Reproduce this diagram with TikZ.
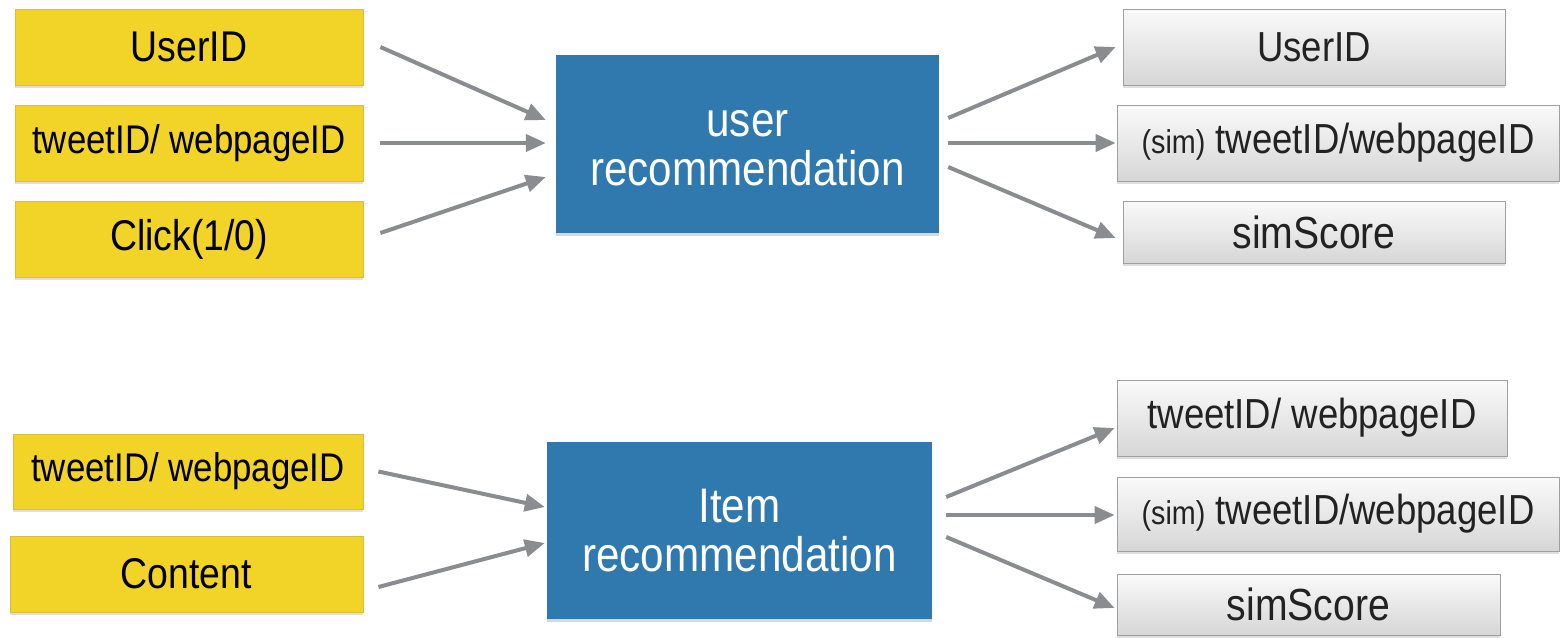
\documentclass[tikz,border=0pt]{standalone}
\usepackage{fontspec}
\setmainfont[FakeStretch=0.87]{Liberation Sans}
\usetikzlibrary{arrows.meta,calc,shadows}
\definecolor{ybox}{RGB}{242,212,40}
\definecolor{bbox}{RGB}{47,121,174}
\definecolor{arrowgray}{RGB}{138,140,144}
\definecolor{gtop}{RGB}{250,250,250}
\definecolor{gbot}{RGB}{214,214,214}
\definecolor{gborder}{RGB}{160,160,160}
\definecolor{yborder}{RGB}{215,190,60}
\definecolor{gtext}{RGB}{34,34,34}
\tikzset{
  yellowbox/.style={draw=yborder, line width=0.8pt, fill=ybox, inner sep=0pt,
    drop shadow={shadow xshift=0pt, shadow yshift=-2.5pt, opacity=0.25},
    font=\fontsize{43}{46}\selectfont},
  bluebox/.style={fill=bbox, inner sep=0pt, text=white, align=center,
    drop shadow={shadow xshift=0pt, shadow yshift=-3pt, opacity=0.3},
    font=\fontsize{48.5}{49}\selectfont},
  graybox/.style={draw=gborder, line width=0.8pt, top color=gtop, bottom color=gbot, inner sep=0pt,
    text=gtext,
    drop shadow={shadow xshift=0pt, shadow yshift=-2.5pt, opacity=0.25},
    font=\fontsize{42}{46}\selectfont},
  smalltext/.style={font=\fontsize{40}{44}\selectfont},
  bigtext/.style={font=\fontsize{45}{48}\selectfont},
  arr/.style={draw=arrowgray, line width=4pt, -{Triangle[length=20pt,width=17pt]}},
}
\newcommand{\smallsim}{{\fontsize{33}{35}\selectfont (sim)}}
\newcommand{\topstrut}{\rule{0pt}{34pt}}
\begin{document}
\begin{tikzpicture}[x=1pt,y=-1pt]
\useasboundingbox (0,0) rectangle (1560,637);
\fill[white] (0,0) rectangle (1560,637);
% top group
\node[yellowbox, minimum width=348pt, minimum height=76pt] (u1) at (189,47) {UserID};
\node[yellowbox, smalltext, minimum width=348pt, minimum height=76pt] (u2) at (189,143) {tweetID/ webpageID};
\node[yellowbox, minimum width=348pt, minimum height=76pt] (u3) at (189,239) {Click(1/0)};
\node[bluebox, minimum width=383pt, minimum height=178pt] (ub) at (747.5,144) {user\topstrut\\recommendation};
\node[graybox, minimum width=382pt, minimum height=76pt] (g1) at (1314,47) {UserID};
\node[graybox, minimum width=442pt, minimum height=76pt] (g2) at (1338,143) {\smallsim{} tweetID/webpageID};
\node[graybox, bigtext, minimum width=382pt, minimum height=62pt] (g3) at (1314,232) {simScore};
% bottom group
\node[yellowbox, smalltext, minimum width=350pt, minimum height=75pt] (i1) at (188,471.5) {tweetID/ webpageID};
\node[yellowbox, minimum width=353pt, minimum height=76pt] (i2) at (186.5,574) {Content};
\node[bluebox, minimum width=385pt, minimum height=177pt] (ib) at (739.5,530.5) {Item\\recommendation};
\node[graybox, minimum width=390pt, minimum height=76pt] (h1) at (1312,418) {tweetID/ webpageID};
\node[graybox, minimum width=442pt, minimum height=74pt] (h2) at (1338,514) {\smallsim{} tweetID/webpageID};
\node[graybox, bigtext, minimum width=383pt, minimum height=61pt] (h3) at (1308.5,604.5) {simScore};
% top arrows
\draw[arr] ($(u1.east)+(17,0)$) -- ($(ub.west)+(-10,-24)$);
\draw[arr] ($(u2.east)+(17,0)$) -- ($(ub.west)+(-10,-1)$);
\draw[arr] ($(u3.east)+(17,-6)$) -- ($(ub.west)+(-10,33)$);
\draw[arr] ($(ub.east)+(9,-26)$) -- ($(g1.west)+(-7,0)$);
\draw[arr] ($(ub.east)+(9,-1)$) -- ($(g2.west)+(-1,0)$);
\draw[arr] ($(ub.east)+(9,23)$) -- ($(g3.west)+(-7,6)$);
% bottom arrows
\draw[arr] ($(i1.east)+(15,0)$) -- ($(ib.west)+(-2,-23.5)$);
\draw[arr] ($(i2.east)+(15,13)$) -- ($(ib.west)+(-2,12.5)$);
\draw[arr] ($(ib.east)+(14,-33.5)$) -- ($(h1.west)+(-2,10)$);
\draw[arr] ($(ib.east)+(14,-15.5)$) -- ($(h2.west)+(-2,1)$);
\draw[arr] ($(ib.east)+(14,6.5)$) -- ($(h3.west)+(-2,3.5)$);
\end{tikzpicture}
\end{document}
